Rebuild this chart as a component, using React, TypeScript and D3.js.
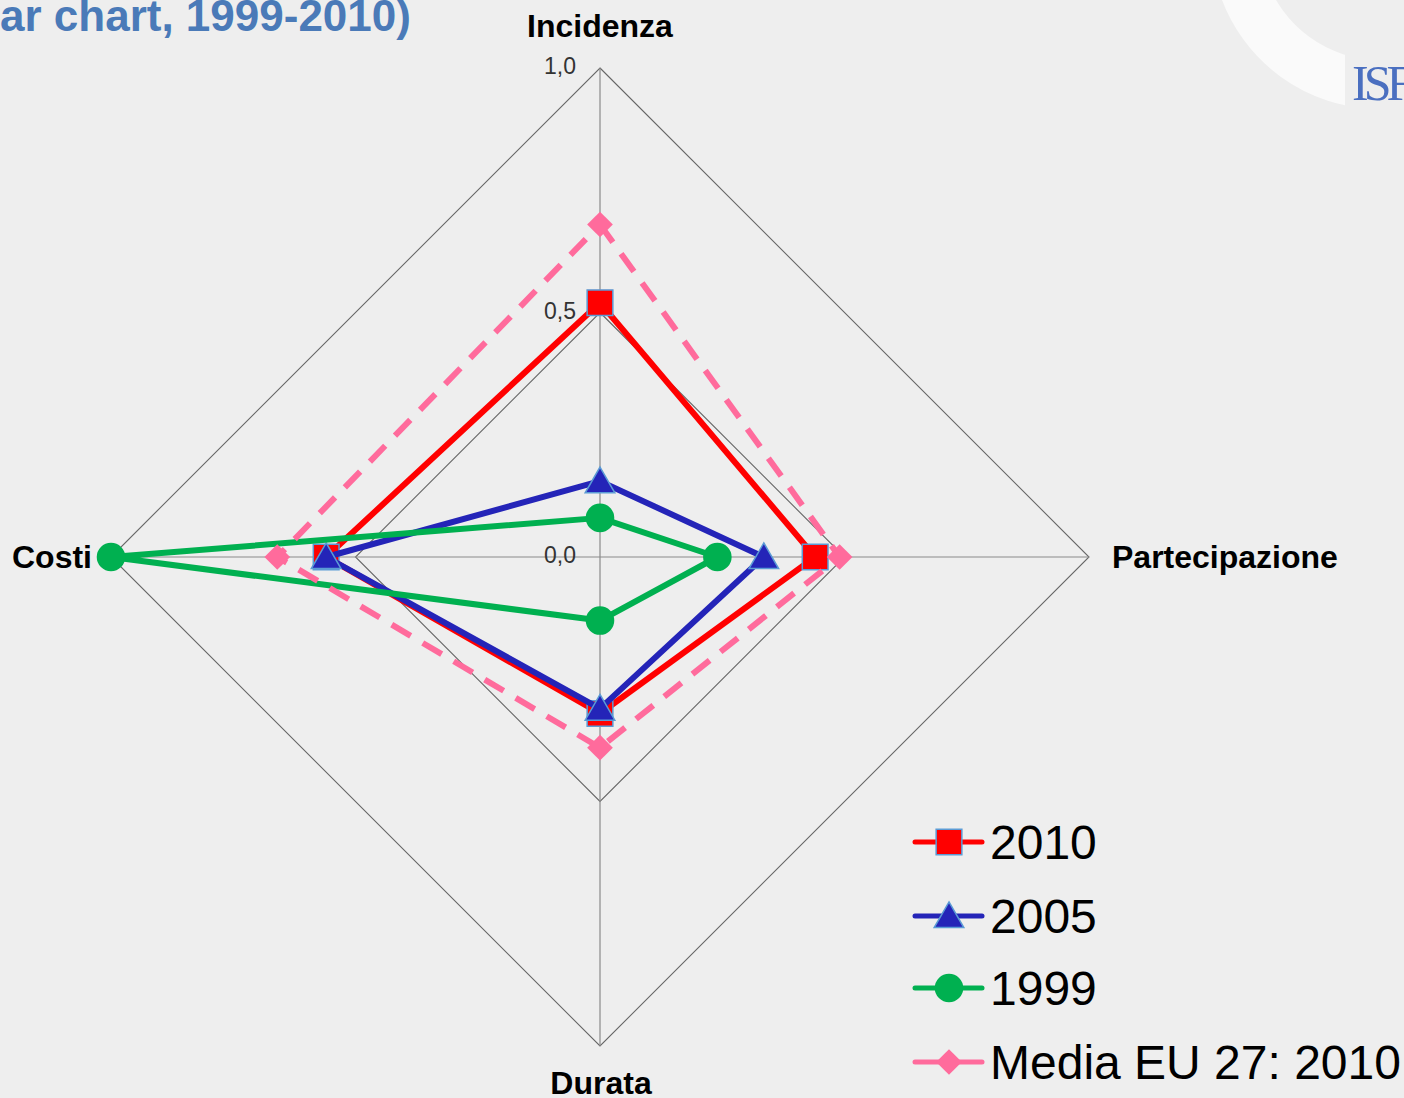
import React from "react";
import * as d3 from "d3";

const axes = ["Incidenza", "Partecipazione", "Durata", "Costi"];
const ticks = [0, 0.5, 1];
const tickLabels = ["0,0", "0,5", "1,0"];

const s2010 = [0.52, 0.44, 0.32, 0.56];
const s2005 = [0.155, 0.335, 0.31, 0.56];
const s1999 = [0.08, 0.24, 0.13, 1.0];
const sEU = [0.68, 0.49, 0.39, 0.66];

const series = [
  { name: "2010", values: s2010, color: "#ff0000", shape: "square", dash: null },
  { name: "2005", values: s2005, color: "#2424b8", shape: "triangle", dash: null },
  { name: "1999", values: s1999, color: "#00b050", shape: "circle", dash: null },
  { name: "Media EU 27: 2010", values: sEU, color: "#ff6b9c", shape: "diamond", dash: "22,14" },
];

const W = 1404;
const H = 1098;
const cx = 600;
const cy = 557;
const R = 489;

const symbolPath = (shape: string) => {
  if (shape === "square") return d3.symbol(d3.symbolSquare, 660)()!;
  if (shape === "triangle") return d3.symbol(d3.symbolTriangle, 380)()!;
  if (shape === "circle") return d3.symbol(d3.symbolCircle, 640)()!;
  return d3.symbol(d3.symbolSquare, 330)()!;
};

const markerTransform = (shape: string, x: number, y: number) =>
  `translate(${x},${y + (shape === "triangle" ? 3 : 0)})${shape === "diamond" ? " rotate(45)" : ""}`;

const App = () => {
  const r = d3.scaleLinear().domain([0, 1]).range([0, R]);
  const angle = d3.scalePoint<string>().domain(axes).range([0, 1.5 * Math.PI]);
  const pt = (name: string, v: number): [number, number] => {
    const a = angle(name)!;
    return [cx + r(v) * Math.sin(a), cy - r(v) * Math.cos(a)];
  };
  const closed = d3.line().curve(d3.curveLinearClosed);
  const ringPath = (v: number) => closed(axes.map((a) => pt(a, v)))!;

  const logoArc = d3.arc()({ innerRadius: 120, outerRadius: 169, startAngle: Math.PI * 0.9, endAngle: Math.PI * 1.7 })!;

  const legendY = [842, 916, 988, 1062];

  return (
    <svg
      width={W}
      height={H}
      style={{ position: "fixed", left: 0, top: 0, background: "#eeeeee" }}
      fontFamily="'Liberation Sans', Arial, sans-serif"
    >
      <rect width={W} height={H} fill="#eeeeee" />
      {/* logo */}
      <defs>
        <clipPath id="logoclip">
          <rect x={1150} y={0} width={195} height={140} />
        </clipPath>
      </defs>
      <g clipPath="url(#logoclip)">
        <path d={logoArc} transform="translate(1380,-60)" fill="#fafafa" />
      </g>
      <text x={1352} y={100} fontFamily="'Liberation Serif', serif" fontSize={50} fill="#4a6fc0" letterSpacing={-5}>
        ISF
      </text>
      {/* title */}
      <text x={0} y={31} fontSize={44} fontWeight="bold" fill="#4a7ab8">
        ar chart, 1999-2010)
      </text>

      {/* grid */}
      {ticks.filter((t) => t > 0).map((t) => (
        <path key={t} d={ringPath(t)} fill="none" stroke="#666" strokeWidth={1.1} />
      ))}
      {axes.map((a) => {
        const [x, y] = pt(a, 1);
        return <line key={a} x1={cx} y1={cy} x2={x} y2={y} stroke="#8a8a8a" strokeWidth={1.2} />;
      })}
      {ticks.map((t, i) => (
        <text key={t} x={576} y={pt(axes[0], t)[1]} textAnchor="end" dominantBaseline="middle" fontSize={23} fill="#333">
          {tickLabels[i]}
        </text>
      ))}

      {/* axis labels */}
      <text x={600} y={37} textAnchor="middle" fontSize={32} fontWeight="bold" fill="#000">Incidenza</text>
      <text x={1112} y={568} textAnchor="start" fontSize={32} fontWeight="bold" fill="#000">Partecipazione</text>
      <text x={601} y={1094} textAnchor="middle" fontSize={32} fontWeight="bold" fill="#000">Durata</text>
      <text x={92} y={568} textAnchor="end" fontSize={32} fontWeight="bold" fill="#000">Costi</text>

      {/* series */}
      {series.map((s) => {
        const pts = axes.map((a, i) => pt(a, s.values[i]));
        return (
          <g key={s.name}>
            <path
              d={closed(pts)!}
              fill="none"
              stroke={s.color}
              strokeWidth={6}
              strokeDasharray={s.dash ?? undefined}
              strokeLinejoin="round"
            />
            {pts.map((p, i) => (
              <path
                key={i}
                d={symbolPath(s.shape)}
                transform={markerTransform(s.shape, p[0], p[1])}
                fill={s.color}
                stroke={s.shape === "square" || s.shape === "triangle" ? "#5b9bd5" : "none"}
                strokeWidth={1.5}
              />
            ))}
          </g>
        );
      })}

      {/* legend */}
      {series.map((s, i) => {
        const y = legendY[i];
        return (
          <g key={s.name}>
            <line x1={915} x2={982} y1={y} y2={y} stroke={s.color} strokeWidth={5} strokeLinecap="round" />
            <path
              d={symbolPath(s.shape)}
              transform={markerTransform(s.shape, 949, y)}
              fill={s.color}
              stroke={s.shape === "square" || s.shape === "triangle" ? "#5b9bd5" : "none"}
              strokeWidth={1.5}
            />
            <text x={990} y={y + 17} fontSize={48} fill="#000">{s.name}</text>
          </g>
        );
      })}
    </svg>
  );
};

export default App;
